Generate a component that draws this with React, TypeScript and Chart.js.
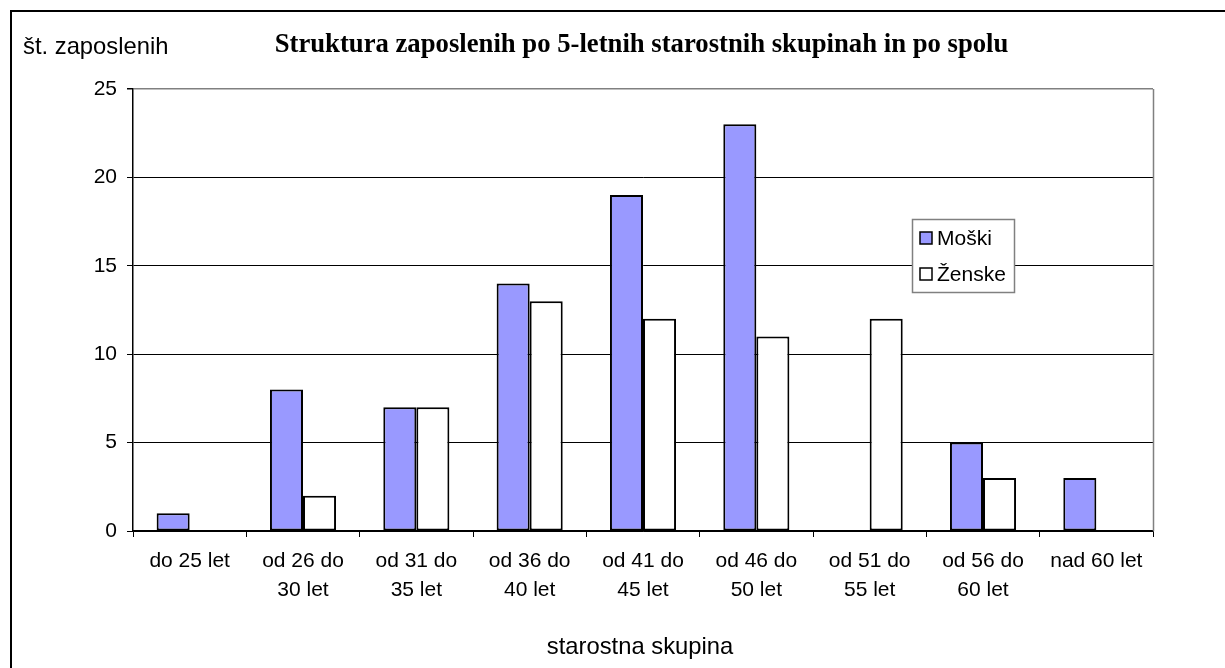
import React, { useEffect, useRef } from "react";
import { Chart, registerables } from "chart.js";

Chart.register(...registerables);

const categories: string[][] = [
  ["do 25 let"],
  ["od 26 do", "30 let"],
  ["od 31 do", "35 let"],
  ["od 36 do", "40 let"],
  ["od 41 do", "45 let"],
  ["od 46 do", "50 let"],
  ["od 51 do", "55 let"],
  ["od 56 do", "60 let"],
  ["nad 60 let"],
];
const moski: (number | null)[] = [1, 8, 7, 14, 19, 23, null, 5, 3];
const zenske: (number | null)[] = [null, 2, 7, 13, 12, 11, 12, 3, null];
const yTicks: number[] = [0, 5, 10, 15, 20, 25];

const TITLE = "Struktura zaposlenih po 5-letnih starostnih skupinah in po spolu";
const Y_TITLE = "št. zaposlenih";
const X_TITLE = "starostna skupina";
const SERIES_NAMES = ["Moški", "Ženske"];
const SANS = "'Liberation Sans', Arial, sans-serif";
const SERIF = "'Liberation Serif', 'Times New Roman', serif";

const W = 1225;
const H = 668;

const decorPlugin = {
  id: "decor",
  afterDraw(chart: any) {
    const ctx = chart.ctx as CanvasRenderingContext2D;
    const ca = chart.chartArea;
    ctx.save();
    // outer frame
    ctx.strokeStyle = "#000";
    ctx.lineWidth = 2;
    ctx.strokeRect(11, 11, W + 50, H + 50);
    // plot area right border
    ctx.strokeStyle = "#808080";
    ctx.lineWidth = 1.5;
    ctx.beginPath();
    ctx.moveTo(Math.round(ca.right) + 0.5, ca.top);
    ctx.lineTo(Math.round(ca.right) + 0.5, ca.bottom);
    ctx.stroke();
    // title
    ctx.fillStyle = "#000";
    ctx.font = `bold 26.7px ${SERIF}`;
    ctx.textAlign = "center";
    ctx.textBaseline = "middle";
    ctx.fillText(TITLE, 641.5, 45);
    // y title
    ctx.font = `23.8px ${SANS}`;
    ctx.textAlign = "left";
    ctx.fillText(Y_TITLE, 23, 47);
    // x title
    ctx.textAlign = "center";
    ctx.fillText(X_TITLE, 640, 647);
    // legend
    const lx = 912, ly = 219, lw = 102, lh = 73;
    ctx.fillStyle = "#fff";
    ctx.fillRect(lx, ly, lw, lh);
    ctx.strokeStyle = "#808080";
    ctx.lineWidth = 1.5;
    ctx.strokeRect(lx + 0.5, ly + 0.5, lw, lh);
    const ds = chart.data.datasets;
    const rows = [238, 274];
    ds.forEach((d: any, i: number) => {
      const cy = rows[i];
      ctx.fillStyle = d.backgroundColor;
      ctx.fillRect(920, cy - 6, 12, 12);
      ctx.strokeStyle = "#000";
      ctx.lineWidth = 1.5;
      ctx.strokeRect(920, cy - 6, 12, 12);
      ctx.fillStyle = "#000";
      ctx.font = `21px ${SANS}`;
      ctx.textAlign = "left";
      ctx.textBaseline = "middle";
      ctx.fillText(d.label, 937, cy + 1);
    });
    ctx.restore();
  },
};

export default function App() {
  const ref = useRef<HTMLCanvasElement | null>(null);
  useEffect(() => {
    const canvas = ref.current;
    if (!canvas) return;
    const chart = new Chart(canvas, {
      type: "bar",
      data: {
        labels: categories,
        datasets: [
          {
            label: SERIES_NAMES[0],
            data: moski,
            backgroundColor: "#9999FF",
            borderColor: "#000",
            borderWidth: 2,
            borderSkipped: false,
          },
          {
            label: SERIES_NAMES[1],
            data: zenske,
            backgroundColor: "#FFFFFF",
            borderColor: "#000",
            borderWidth: 2,
            borderSkipped: false,
          },
        ],
      },
      options: {
        responsive: false,
        animation: false,
        devicePixelRatio: 1,
        layout: { padding: { left: 0, top: 89, right: 72, bottom: 0 } },
        datasets: { bar: { categoryPercentage: 0.583, barPercentage: 1 } },
        plugins: {
          legend: { display: false },
          title: { display: false },
          tooltip: { enabled: false },
        },
        scales: {
          x: {
            offset: true,
            grid: {
              offset: true,
              drawOnChartArea: false,
              drawTicks: true,
              tickLength: 6,
              color: "#000",
              lineWidth: 1,
            },
            border: { color: "#000", width: 1.5 },
            ticks: {
              color: "#000",
              padding: 10,
              maxRotation: 0,
              autoSkip: false,
              font: { family: SANS, size: 21, lineHeight: 1.38 },
            },
            afterFit(scale: any) {
              scale.height = H - 531;
            },
          },
          y: {
            min: 0,
            max: 25,
            afterBuildTicks(scale: any) {
              scale.ticks = yTicks.map((v) => ({ value: v }));
            },
            grid: {
              color: (c: any) => (c.tick && c.tick.value === 25 ? "#808080" : "#000"),
              lineWidth: (c: any) => (c.tick && c.tick.value === 25 ? 1.5 : 1),
              tickColor: "#000",
              drawTicks: true,
              tickLength: 6,
            },
            border: { color: "#000", width: 1.5 },
            ticks: {
              color: "#000",
              padding: 10,
              font: { family: SANS, size: 21 },
            },
            afterFit(scale: any) {
              scale.width = 133;
            },
          },
        },
      },
      plugins: [decorPlugin],
    });
    return () => chart.destroy();
  }, []);
  return (
    <div style={{ position: "fixed", left: 0, top: 0, width: W, height: H, background: "#fff" }}>
      <canvas ref={ref} width={W} height={H} style={{ display: "block" }} />
    </div>
  );
}
